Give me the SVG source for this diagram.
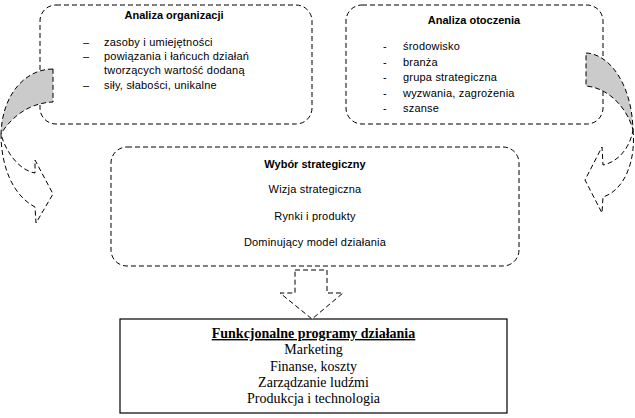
<svg xmlns="http://www.w3.org/2000/svg" width="635" height="418" viewBox="0 0 635 418">
<style>
.dbox{fill:#ffffff;stroke:#000;stroke-width:1;stroke-dasharray:5,3}
.arr{stroke:#000;stroke-width:1;stroke-dasharray:5,3}
.grey{fill:#cbcbcb}
.open{fill:none}
.t{font-family:"Liberation Sans",Arial,sans-serif;font-size:11px;fill:#000;letter-spacing:0.2px}
.b{font-family:"Liberation Sans",Arial,sans-serif;font-size:11px;font-weight:bold;fill:#000}
.s{font-family:"Liberation Serif","Times New Roman",serif;font-size:14px;fill:#000;text-anchor:middle}
.c{text-anchor:middle}
</style>
<rect width="635" height="418" fill="#ffffff"/>
<g id="analiza-organizacji">
<rect class="dbox" x="40" y="5" width="272" height="119" rx="16" ry="16"/>
<text class="b c" x="174" y="19">Analiza organizacji</text>
<text class="t" x="83" y="46">–</text><text class="t" x="104" y="46">zasoby i umiejętności</text>
<text class="t" x="83" y="60">–</text><text class="t" x="104" y="60">powiązania i łańcuch działań</text>
<text class="t" x="104" y="74">tworzących wartość dodaną</text>
<text class="t" x="83" y="88.5">–</text><text class="t" x="104" y="88.5">siły, słabości, unikalne</text>
</g>
<g id="analiza-otoczenia">
<rect class="dbox" x="346" y="5" width="257" height="119" rx="16" ry="16"/>
<text class="b c" x="474" y="24">Analiza otoczenia</text>
<text class="t" x="383" y="50">-</text><text class="t" x="403" y="50">środowisko</text>
<text class="t" x="383" y="65.5">-</text><text class="t" x="403" y="65.5">branża</text>
<text class="t" x="383" y="81">-</text><text class="t" x="403" y="81">grupa strategiczna</text>
<text class="t" x="383" y="96.5">-</text><text class="t" x="403" y="96.5">wyzwania, zagrożenia</text>
<text class="t" x="383" y="112">-</text><text class="t" x="403" y="112">szanse</text>
</g>
<g id="wybor-strategiczny">
<rect class="dbox" x="111" y="147" width="408" height="119" rx="16" ry="16"/>
<text class="b c" x="315" y="168">Wybór strategiczny</text>
<text class="t c" x="315" y="193">Wizja strategiczna</text>
<text class="t c" x="315" y="220">Rynki i produkty</text>
<text class="t c" x="315" y="246">Dominujący model działania</text>
</g>
<g id="funkcjonalne-programy">
<rect x="120" y="319" width="387" height="94" fill="#ffffff" stroke="#000" stroke-width="1.2"/>
<text class="s" x="313.5" y="338" font-weight="bold" text-decoration="underline">Funkcjonalne programy działania</text>
<text class="s" x="313.5" y="354">Marketing</text>
<text class="s" x="313.5" y="370.5">Finanse, koszty</text>
<text class="s" x="313.5" y="387">Zarządzanie  ludźmi</text>
<text class="s" x="313.5" y="403">Produkcja i technologia</text>
</g>
<g id="connectors">
<path class="arr grey" d="M53,69 C25,69 2,95 1,134 C8,122 25,103 53,102 Z"/>
<path class="arr open" d="M1,134 C1,165 12,195 35,207 L36,223 L53,194 L35,160 L35,173 C18,170 5,150 1,134"/>
<path class="arr grey" d="M586,53 C610,54 632,85 633,130 C628,110 610,88 586,86 Z"/>
<path class="arr open" d="M633,130 C636,160 625,190 603,197 L602,213 L585,180 L602,147 L603,165 C618,162 630,148 633,130"/>
<path class="arr" fill="#ffffff" d="M295,270 L327,270 L327,293 L343,293 L312,319 L280,293 L295,293 Z"/>
</g>
</svg>
